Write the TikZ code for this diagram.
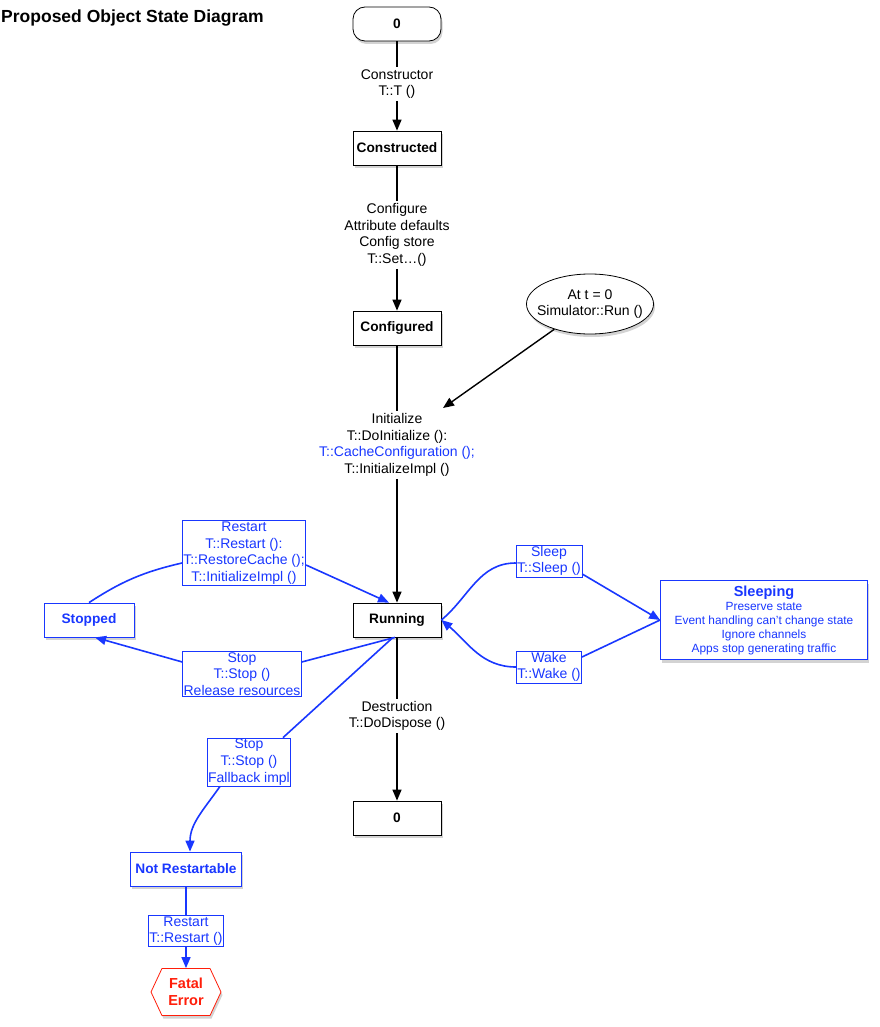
\documentclass[tikz,border=0pt]{standalone}
\usepackage{fontspec}
\setmainfont{Liberation Sans}
\usetikzlibrary{arrows.meta,shapes.geometric,shapes.symbols,shadows}
\definecolor{myblue}{RGB}{25,55,255}
\definecolor{myred}{RGB}{255,30,10}
\begin{document}
\begin{tikzpicture}[x=1pt,y=-1pt,
  every node/.style={font=\fontsize{14}{16.7}\selectfont},
  shad/.style={drop shadow={shadow xshift=1.5pt,shadow yshift=-3pt,opacity=0.35}},
  state/.style={draw=black,fill=white,line width=0.8pt,minimum width=88pt,minimum height=34pt,
    font=\fontsize{13.7}{15}\selectfont\bfseries,shad},
  bstate/.style={draw=myblue,fill=white,line width=0.8pt,minimum height=34pt,text=myblue,
    font=\fontsize{13.7}{15}\selectfont\bfseries,shad},
  lbl/.style={align=center,inner sep=2pt},
  bbox/.style={draw=myblue,line width=0.7pt,text=myblue,align=center,inner sep=1pt,fill=white},
  bk/.style={draw=black,line width=1.4pt},
  bl/.style={draw=myblue,line width=1.6pt},
  tip/.style={-{Triangle[length=11pt,width=9pt]}}
]
\useasboundingbox (0,0) rectangle (879,1027);
\node[font=\fontsize{17.5}{19}\selectfont\bfseries,anchor=west,inner sep=0pt] (title) at (1,18) {Proposed Object State Diagram};
\node[state,rounded corners=12pt] (z0) at (397,24) {0};
\node[lbl] (lc) at (397,84) {Constructor\\T::T ()};
\node[state] (constructed) at (397,148) {Constructed};
\node[lbl] (lcfg) at (397,235) {Configure\\Attribute defaults\\Config store\\T::Set\ldots()};
\node[state] (configured) at (397,328) {Configured};
\node[ellipse,draw=black,fill=white,line width=0.8pt,minimum width=125pt,minimum height=60pt,align=center,inner sep=-8pt,shad] (run) at (590,304) {At t = 0\\Simulator::Run ()};
\node[lbl] (linit) at (397,445) {Initialize\\T::DoInitialize ():\\\textcolor{myblue}{T::CacheConfiguration ();}\\T::InitializeImpl ()};
\node[state] (running) at (397,620) {Running};
\node[lbl] (ldes) at (397,716) {Destruction\\T::DoDispose ()};
\node[state] (z1) at (397,818) {0};
\coordinate (ie) at (443,408);

\node[bbox] (lrestart) at (244,553) {Restart\\T::Restart ():\\T::RestoreCache ();\\T::InitializeImpl ()};
\node[bstate,minimum width=90pt] (stopped) at (89,620) {Stopped};
\node[bbox] (lstop) at (242,674) {Stop\\T::Stop ()\\Release resources};
\node[bbox] (lsleep) at (549,561) {Sleep\\T::Sleep ()};
\node[bbox] (lwake) at (549,667) {Wake\\T::Wake ()};
\node[bstate,minimum width=207pt,minimum height=79pt,align=center,font=\fontsize{11.9}{14}\selectfont] (sleeping) at (764,620) {{\fontsize{14.5}{14}\selectfont\bfseries Sleeping}\\Preserve state\\Event handling can't change state\\Ignore channels\\Apps stop generating traffic};
\node[bbox] (lstop2) at (249,762) {Stop\\T::Stop ()\\Fallback impl};
\node[bstate,minimum width=111pt] (notr) at (186,869) {Not Restartable};
\node[bbox] (lrestart2) at (186,931) {Restart\\T::Restart ()};
\node[signal,signal to=east and west,signal pointer angle=130,draw=myred,fill=white,text=myred,
  font=\fontsize{14.5}{17}\selectfont\bfseries,minimum width=70pt,minimum height=47pt,align=center,
  line width=0.8pt,inner sep=0pt,shad] (fatal) at (186,992) {Fatal\\Error};

% black connectors
\draw[bk] (z0) -- (lc);
\draw[bk,tip] (lc) -- (constructed);
\draw[bk] (constructed) -- (lcfg);
\draw[bk,tip] (lcfg) -- (configured);
\draw[bk] (configured) -- (linit);
\draw[bk,tip] (linit) -- (running);
\draw[bk] (running) -- (ldes);
\draw[bk,tip] (ldes) -- (z1);
\draw[bk,tip] (run) -- (ie);

% blue connectors
\draw[bl] (stopped.north) to[bend left=10] ([yshift=-10pt]lrestart.west);
\draw[bl,tip] ([yshift=-12pt]lrestart.east) -- ([xshift=-8pt]running.north);
\draw[bl] ([xshift=-2pt]running.south) -- ([yshift=12pt]lstop.east);
\draw[bl,tip] ([yshift=12pt]lstop.west) -- ([xshift=6pt]stopped.south);
\draw[bl] ([xshift=-4pt]running.south) -- ([xshift=34pt]lstop2.north);
\draw[bl,tip] ([xshift=-29pt]lstop2.south) to[out=-125,in=90] ([xshift=4pt]notr.north);
\draw[bl] (notr) -- (lrestart2);
\draw[bl,tip] (lrestart2) -- (fatal);
\draw[bl] (running.east) to[out=40,in=180] ([yshift=-2pt]lsleep.west);
\draw[bl,tip] ([yshift=-13pt]lsleep.east) -- (sleeping.west);
\draw[bl] (sleeping.west) -- ([yshift=10pt]lwake.east);
\draw[bl,tip] (lwake.west) to[out=180,in=-40] (running.east);
\end{tikzpicture}
\end{document}
